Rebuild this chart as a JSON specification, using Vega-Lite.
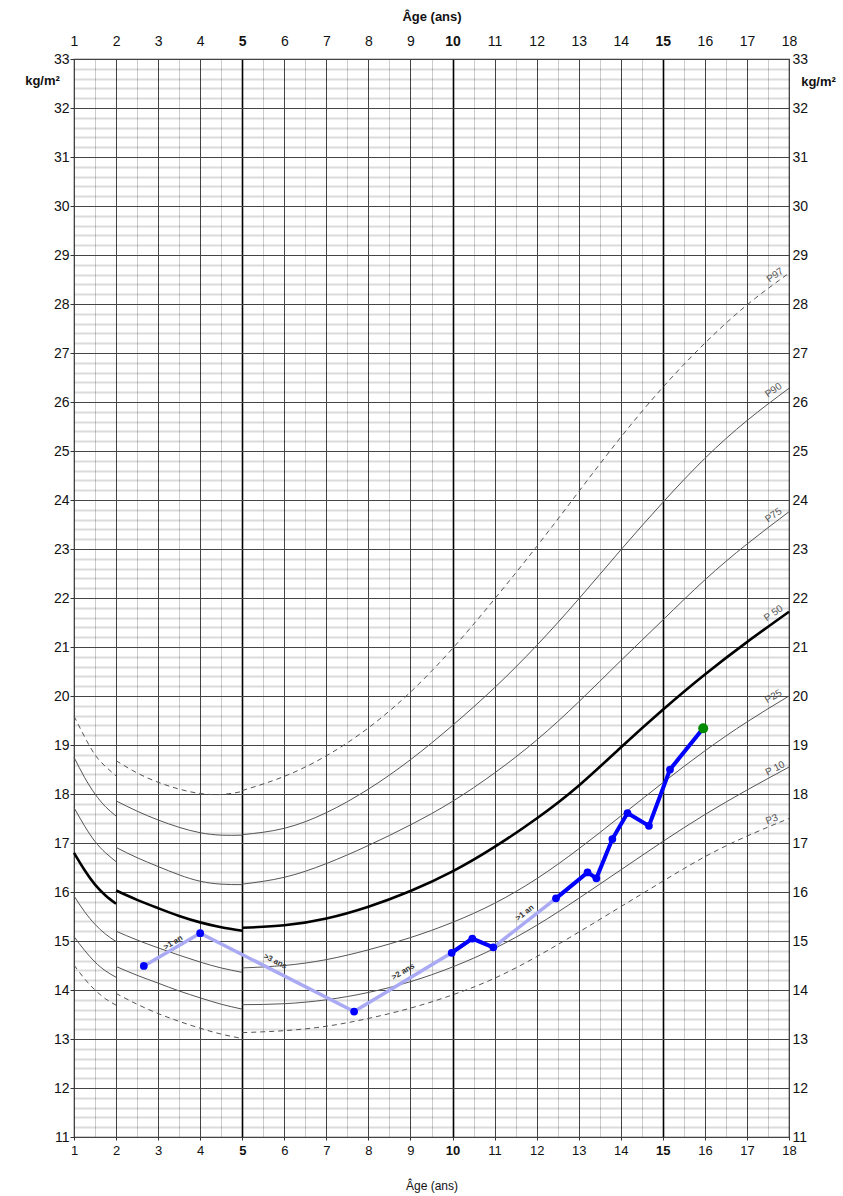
{
"$schema":"https://vega.github.io/schema/vega-lite/v6.json",
"width":715,"height":1078,"autosize":"none",
"padding":{"left":74,"top":59,"right":54,"bottom":59},
"background":"white",
"config":{"view":{"stroke":"#333","strokeWidth":1.2},"axis":{"labelFont":"Liberation Sans","titleFont":"Liberation Sans","labelColor":"#111","titleColor":"#111"}},
"datasets":{
"curves":[
{"p":"P97","s":"a","age":1,"bmi":19.59},{"p":"P97","s":"a","age":1.25,"bmi":19.17},{"p":"P97","s":"a","age":1.5,"bmi":18.8},{"p":"P97","s":"a","age":1.75,"bmi":18.56},{"p":"P97","s":"a","age":2,"bmi":18.37},
{"p":"P90","s":"a","age":1,"bmi":18.75},{"p":"P90","s":"a","age":1.25,"bmi":18.34},{"p":"P90","s":"a","age":1.5,"bmi":18.0},{"p":"P90","s":"a","age":1.75,"bmi":17.74},{"p":"P90","s":"a","age":2,"bmi":17.55},
{"p":"P75","s":"a","age":1,"bmi":17.72},{"p":"P75","s":"a","age":1.25,"bmi":17.35},{"p":"P75","s":"a","age":1.5,"bmi":17.03},{"p":"P75","s":"a","age":1.75,"bmi":16.8},{"p":"P75","s":"a","age":2,"bmi":16.62},
{"p":"P50","s":"a","age":1,"bmi":16.8},{"p":"P50","s":"a","age":1.25,"bmi":16.45},{"p":"P50","s":"a","age":1.5,"bmi":16.15},{"p":"P50","s":"a","age":1.75,"bmi":15.93},{"p":"P50","s":"a","age":2,"bmi":15.76},
{"p":"P25","s":"a","age":1,"bmi":15.92},{"p":"P25","s":"a","age":1.25,"bmi":15.6},{"p":"P25","s":"a","age":1.5,"bmi":15.34},{"p":"P25","s":"a","age":1.75,"bmi":15.14},{"p":"P25","s":"a","age":2,"bmi":14.99},
{"p":"P10","s":"a","age":1,"bmi":15.09},{"p":"P10","s":"a","age":1.25,"bmi":14.81},{"p":"P10","s":"a","age":1.5,"bmi":14.57},{"p":"P10","s":"a","age":1.75,"bmi":14.39},{"p":"P10","s":"a","age":2,"bmi":14.26},
{"p":"P3","s":"a","age":1,"bmi":14.51},{"p":"P3","s":"a","age":1.25,"bmi":14.23},{"p":"P3","s":"a","age":1.5,"bmi":14.0},{"p":"P3","s":"a","age":1.75,"bmi":13.82},{"p":"P3","s":"a","age":2,"bmi":13.69},
{"p":"P97","s":"b","age":2,"bmi":18.68},{"p":"P97","s":"b","age":2.5,"bmi":18.43},{"p":"P97","s":"b","age":3,"bmi":18.24},{"p":"P97","s":"b","age":3.5,"bmi":18.1},{"p":"P97","s":"b","age":4,"bmi":18.01},{"p":"P97","s":"b","age":4.5,"bmi":17.99},{"p":"P97","s":"b","age":5,"bmi":18.05},
{"p":"P90","s":"b","age":2,"bmi":17.86},{"p":"P90","s":"b","age":2.5,"bmi":17.65},{"p":"P90","s":"b","age":3,"bmi":17.47},{"p":"P90","s":"b","age":3.5,"bmi":17.32},{"p":"P90","s":"b","age":4,"bmi":17.21},{"p":"P90","s":"b","age":4.5,"bmi":17.16},{"p":"P90","s":"b","age":5,"bmi":17.16},
{"p":"P75","s":"b","age":2,"bmi":16.91},{"p":"P75","s":"b","age":2.5,"bmi":16.7},{"p":"P75","s":"b","age":3,"bmi":16.52},{"p":"P75","s":"b","age":3.5,"bmi":16.35},{"p":"P75","s":"b","age":4,"bmi":16.22},{"p":"P75","s":"b","age":4.5,"bmi":16.16},{"p":"P75","s":"b","age":5,"bmi":16.15},
{"p":"P50","s":"b","age":2,"bmi":16.03},{"p":"P50","s":"b","age":2.5,"bmi":15.84},{"p":"P50","s":"b","age":3,"bmi":15.67},{"p":"P50","s":"b","age":3.5,"bmi":15.51},{"p":"P50","s":"b","age":4,"bmi":15.38},{"p":"P50","s":"b","age":4.5,"bmi":15.28},{"p":"P50","s":"b","age":5,"bmi":15.21},
{"p":"P25","s":"b","age":2,"bmi":15.2},{"p":"P25","s":"b","age":2.5,"bmi":15.02},{"p":"P25","s":"b","age":3,"bmi":14.86},{"p":"P25","s":"b","age":3.5,"bmi":14.71},{"p":"P25","s":"b","age":4,"bmi":14.57},{"p":"P25","s":"b","age":4.5,"bmi":14.45},{"p":"P25","s":"b","age":5,"bmi":14.36},
{"p":"P10","s":"b","age":2,"bmi":14.48},{"p":"P10","s":"b","age":2.5,"bmi":14.3},{"p":"P10","s":"b","age":3,"bmi":14.14},{"p":"P10","s":"b","age":3.5,"bmi":13.98},{"p":"P10","s":"b","age":4,"bmi":13.84},{"p":"P10","s":"b","age":4.5,"bmi":13.71},{"p":"P10","s":"b","age":5,"bmi":13.61},
{"p":"P3","s":"b","age":2,"bmi":13.93},{"p":"P3","s":"b","age":2.5,"bmi":13.71},{"p":"P3","s":"b","age":3,"bmi":13.52},{"p":"P3","s":"b","age":3.5,"bmi":13.36},{"p":"P3","s":"b","age":4,"bmi":13.22},{"p":"P3","s":"b","age":4.5,"bmi":13.1},{"p":"P3","s":"b","age":5,"bmi":13.01},
{"p":"P97","s":"c","age":5,"bmi":18.07},{"p":"P97","s":"c","age":6,"bmi":18.36},{"p":"P97","s":"c","age":7,"bmi":18.78},{"p":"P97","s":"c","age":8,"bmi":19.35},{"p":"P97","s":"c","age":9,"bmi":20.08},{"p":"P97","s":"c","age":10,"bmi":20.97},{"p":"P97","s":"c","age":11,"bmi":21.98},{"p":"P97","s":"c","age":12,"bmi":23.05},{"p":"P97","s":"c","age":13,"bmi":24.17},{"p":"P97","s":"c","age":14,"bmi":25.28},{"p":"P97","s":"c","age":15,"bmi":26.3},{"p":"P97","s":"c","age":16,"bmi":27.2},{"p":"P97","s":"c","age":17,"bmi":27.98},{"p":"P97","s":"c","age":18,"bmi":28.63},
{"p":"P90","s":"c","age":5,"bmi":17.17},{"p":"P90","s":"c","age":6,"bmi":17.3},{"p":"P90","s":"c","age":7,"bmi":17.62},{"p":"P90","s":"c","age":8,"bmi":18.1},{"p":"P90","s":"c","age":9,"bmi":18.7},{"p":"P90","s":"c","age":10,"bmi":19.4},{"p":"P90","s":"c","age":11,"bmi":20.17},{"p":"P90","s":"c","age":12,"bmi":21.03},{"p":"P90","s":"c","age":13,"bmi":21.98},{"p":"P90","s":"c","age":14,"bmi":22.98},{"p":"P90","s":"c","age":15,"bmi":23.95},{"p":"P90","s":"c","age":16,"bmi":24.85},{"p":"P90","s":"c","age":17,"bmi":25.62},{"p":"P90","s":"c","age":18,"bmi":26.28},
{"p":"P75","s":"c","age":5,"bmi":16.16},{"p":"P75","s":"c","age":6,"bmi":16.3},{"p":"P75","s":"c","age":7,"bmi":16.58},{"p":"P75","s":"c","age":8,"bmi":16.95},{"p":"P75","s":"c","age":9,"bmi":17.37},{"p":"P75","s":"c","age":10,"bmi":17.85},{"p":"P75","s":"c","age":11,"bmi":18.43},{"p":"P75","s":"c","age":12,"bmi":19.1},{"p":"P75","s":"c","age":13,"bmi":19.88},{"p":"P75","s":"c","age":14,"bmi":20.72},{"p":"P75","s":"c","age":15,"bmi":21.55},{"p":"P75","s":"c","age":16,"bmi":22.37},{"p":"P75","s":"c","age":17,"bmi":23.1},{"p":"P75","s":"c","age":18,"bmi":23.76},
{"p":"P50","s":"c","age":5,"bmi":15.27},{"p":"P50","s":"c","age":6,"bmi":15.32},{"p":"P50","s":"c","age":7,"bmi":15.46},{"p":"P50","s":"c","age":8,"bmi":15.7},{"p":"P50","s":"c","age":9,"bmi":16.02},{"p":"P50","s":"c","age":10,"bmi":16.42},{"p":"P50","s":"c","age":11,"bmi":16.92},{"p":"P50","s":"c","age":12,"bmi":17.5},{"p":"P50","s":"c","age":13,"bmi":18.17},{"p":"P50","s":"c","age":14,"bmi":18.95},{"p":"P50","s":"c","age":15,"bmi":19.72},{"p":"P50","s":"c","age":16,"bmi":20.44},{"p":"P50","s":"c","age":17,"bmi":21.1},{"p":"P50","s":"c","age":18,"bmi":21.72},
{"p":"P25","s":"c","age":5,"bmi":14.45},{"p":"P25","s":"c","age":6,"bmi":14.5},{"p":"P25","s":"c","age":7,"bmi":14.62},{"p":"P25","s":"c","age":8,"bmi":14.82},{"p":"P25","s":"c","age":9,"bmi":15.07},{"p":"P25","s":"c","age":10,"bmi":15.38},{"p":"P25","s":"c","age":11,"bmi":15.77},{"p":"P25","s":"c","age":12,"bmi":16.27},{"p":"P25","s":"c","age":13,"bmi":16.88},{"p":"P25","s":"c","age":14,"bmi":17.55},{"p":"P25","s":"c","age":15,"bmi":18.23},{"p":"P25","s":"c","age":16,"bmi":18.88},{"p":"P25","s":"c","age":17,"bmi":19.47},{"p":"P25","s":"c","age":18,"bmi":20.0},
{"p":"P10","s":"c","age":5,"bmi":13.7},{"p":"P10","s":"c","age":6,"bmi":13.72},{"p":"P10","s":"c","age":7,"bmi":13.8},{"p":"P10","s":"c","age":8,"bmi":13.95},{"p":"P10","s":"c","age":9,"bmi":14.17},{"p":"P10","s":"c","age":10,"bmi":14.47},{"p":"P10","s":"c","age":11,"bmi":14.85},{"p":"P10","s":"c","age":12,"bmi":15.32},{"p":"P10","s":"c","age":13,"bmi":15.87},{"p":"P10","s":"c","age":14,"bmi":16.45},{"p":"P10","s":"c","age":15,"bmi":17.03},{"p":"P10","s":"c","age":16,"bmi":17.58},{"p":"P10","s":"c","age":17,"bmi":18.08},{"p":"P10","s":"c","age":18,"bmi":18.55},
{"p":"P3","s":"c","age":5,"bmi":13.13},{"p":"P3","s":"c","age":6,"bmi":13.17},{"p":"P3","s":"c","age":7,"bmi":13.26},{"p":"P3","s":"c","age":8,"bmi":13.42},{"p":"P3","s":"c","age":9,"bmi":13.63},{"p":"P3","s":"c","age":10,"bmi":13.9},{"p":"P3","s":"c","age":11,"bmi":14.24},{"p":"P3","s":"c","age":12,"bmi":14.68},{"p":"P3","s":"c","age":13,"bmi":15.18},{"p":"P3","s":"c","age":14,"bmi":15.7},{"p":"P3","s":"c","age":15,"bmi":16.22},{"p":"P3","s":"c","age":16,"bmi":16.72},{"p":"P3","s":"c","age":17,"bmi":17.14},{"p":"P3","s":"c","age":18,"bmi":17.5}
],
"patient":[
{"age":2.66,"bmi":14.49,"grp":null,"kind":"past"},
{"age":4.0,"bmi":15.16,"grp":null,"kind":"past"},
{"age":7.66,"bmi":13.56,"grp":null,"kind":"past"},
{"age":9.98,"bmi":14.76,"grp":"g1","kind":"past"},
{"age":10.47,"bmi":15.05,"grp":"g1","kind":"past"},
{"age":10.97,"bmi":14.87,"grp":"g1","kind":"past"},
{"age":12.46,"bmi":15.87,"grp":"g2","kind":"past"},
{"age":13.21,"bmi":16.4,"grp":"g2","kind":"past"},
{"age":13.42,"bmi":16.28,"grp":"g2","kind":"past"},
{"age":13.8,"bmi":17.08,"grp":"g2","kind":"past"},
{"age":14.16,"bmi":17.61,"grp":"g2","kind":"past"},
{"age":14.67,"bmi":17.35,"grp":"g2","kind":"past"},
{"age":15.17,"bmi":18.5,"grp":"g2","kind":"past"},
{"age":15.96,"bmi":19.34,"grp":"g2","kind":"current"}
],
"gaps":[
{"age":3.36,"bmi":14.96,"t":">1 an","g":"up"},
{"age":5.78,"bmi":14.58,"t":">3 ans","g":"down"},
{"age":8.83,"bmi":14.37,"t":">2 ans","g":"up"},
{"age":11.72,"bmi":15.57,"t":">1 an","g":"steep"}
],
"plabels":[
{"age":17.67,"bmi":28.59,"t":"P97","a":"A"},
{"age":17.63,"bmi":26.24,"t":"P90","a":"A"},
{"age":17.63,"bmi":23.69,"t":"P75","a":"A"},
{"age":17.63,"bmi":21.69,"t":"P 50","a":"A"},
{"age":17.63,"bmi":19.99,"t":"P25","a":"B"},
{"age":17.67,"bmi":18.52,"t":"P 10","a":"C"},
{"age":17.59,"bmi":17.48,"t":"P3","a":"D"}
]
},
"layer":[
{"data":{"name":"curves"},"transform":[{"filter":"datum.p==='P90'||datum.p==='P75'||datum.p==='P25'||datum.p==='P10'"}],
"mark":{"type":"line","stroke":"#555","strokeWidth":1,"interpolate":"natural"},
"encoding":{
"x":{"field":"age","type":"quantitative","scale":{"domain":[1,18],"nice":false,"zero":false},
"axis":{"orient":"bottom","values":[1,1.5,2,2.5,3,3.5,4,4.5,5,5.5,6,6.5,7,7.5,8,8.5,9,9.5,10,10.5,11,11.5,12,12.5,13,13.5,14,14.5,15,15.5,16,16.5,17,17.5,18],
"grid":true,"zindex":0,
"gridColor":{"condition":[{"test":"datum.value % 5 === 0","value":"#000"},{"test":"datum.value % 1 === 0","value":"#444"}],"value":"#000"},
"gridOpacity":{"condition":{"test":"datum.value % 1 === 0","value":1},"value":0.2},
"gridWidth":{"condition":{"test":"datum.value % 5 === 0","value":1.6},"value":1},
"labelExpr":"datum.value % 1 === 0 ? format(datum.value,'d') : ''",
"labelFontWeight":{"condition":{"test":"datum.value % 5 === 0","value":"bold"},"value":"normal"},
"tickOpacity":{"condition":{"test":"datum.value % 1 === 0","value":1},"value":0},
"tickSize":3,"tickColor":"#333","domain":false,"labelOverlap":false,"labelFlush":false,
"labelFontSize":13,"labelPadding":4,
"title":"Âge (ans)","titleFontSize":12,"titleFontWeight":"normal","titlePadding":23}},
"y":{"field":"bmi","type":"quantitative","scale":{"domain":[11,33],"nice":false,"zero":false},
"axis":{"orient":"left","values":[11,11.2,11.4,11.6,11.8,12,12.2,12.4,12.6,12.8,13,13.2,13.4,13.6,13.8,14,14.2,14.4,14.6,14.8,15,15.2,15.4,15.6,15.8,16,16.2,16.4,16.6,16.8,17,17.2,17.4,17.6,17.8,18,18.2,18.4,18.6,18.8,19,19.2,19.4,19.6,19.8,20,20.2,20.4,20.6,20.8,21,21.2,21.4,21.6,21.8,22,22.2,22.4,22.6,22.8,23,23.2,23.4,23.6,23.8,24,24.2,24.4,24.6,24.8,25,25.2,25.4,25.6,25.8,26,26.2,26.4,26.6,26.8,27,27.2,27.4,27.6,27.8,28,28.2,28.4,28.6,28.8,29,29.2,29.4,29.6,29.8,30,30.2,30.4,30.6,30.8,31,31.2,31.4,31.6,31.8,32,32.2,32.4,32.6,32.8,33],
"grid":true,"zindex":0,
"gridColor":{"condition":{"test":"datum.value % 1 === 0","value":"#444"},"value":"#000"},
"gridOpacity":{"condition":{"test":"datum.value % 1 === 0","value":1},"value":0.14},
"gridWidth":{"condition":{"test":"datum.value % 1 === 0","value":1.2},"value":1.8},
"labelExpr":"datum.value % 1 === 0 ? format(datum.value,'d') : ''",
"tickOpacity":{"condition":{"test":"datum.value % 1 === 0","value":1},"value":0},
"tickSize":4,"tickColor":"#333","domain":false,"labelOverlap":false,"labelFlush":false,
"labelFontSize":14,"labelPadding":1,
"title":"kg/m²","titleAngle":0,"titleX":-32,"titleY":21,"titleAlign":"center","titleBaseline":"middle","titleFontSize":13,"titleFontWeight":"bold"}},
"detail":[{"field":"p"},{"field":"s"}]}},
{"data":{"name":"curves"},"transform":[{"filter":"datum.p==='P97'||datum.p==='P3'"}],
"mark":{"type":"line","stroke":"#555","strokeWidth":1,"strokeDash":[5,4],"interpolate":"natural"},
"encoding":{
"x":{"field":"age","type":"quantitative","scale":{"domain":[1,18],"nice":false,"zero":false},
"axis":{"orient":"top","values":[1,2,3,4,5,6,7,8,9,10,11,12,13,14,15,16,17,18],"grid":false,"ticks":false,"domain":false,"labelOverlap":false,"labelFlush":false,
"labelFontSize":14,"labelPadding":11,
"labelFontWeight":{"condition":{"test":"datum.value % 5 === 0","value":"bold"},"value":"normal"},
"labelExpr":"format(datum.value,'d')",
"title":"Âge (ans)","titleFontSize":13,"titleFontWeight":"bold","titlePadding":11}},
"y":{"field":"bmi","type":"quantitative","scale":{"domain":[11,33],"nice":false,"zero":false},
"axis":{"orient":"right","values":[11,12,13,14,15,16,17,18,19,20,21,22,23,24,25,26,27,28,29,30,31,32,33],"grid":false,"ticks":false,"domain":false,"labelOverlap":false,"labelFlush":false,
"labelFontSize":14,"labelPadding":3,"labelExpr":"format(datum.value,'d')",
"title":"kg/m²","titleAngle":0,"titleX":29,"titleY":22,"titleAlign":"center","titleBaseline":"middle","titleFontSize":13,"titleFontWeight":"bold"}},
"detail":[{"field":"p"},{"field":"s"}]}},
{"data":{"name":"curves"},"transform":[{"filter":"datum.p==='P50'"}],
"mark":{"type":"line","stroke":"#000","strokeWidth":2.6,"interpolate":"natural"},
"encoding":{
"x":{"field":"age","type":"quantitative","scale":{"domain":[1,18],"nice":false,"zero":false},"axis":null},
"y":{"field":"bmi","type":"quantitative","scale":{"domain":[11,33],"nice":false,"zero":false},"axis":null},
"detail":{"field":"s"}}},
{"data":{"name":"patient"},
"mark":{"type":"line","stroke":"#a9aaf3","strokeWidth":3.5},
"encoding":{
"x":{"field":"age","type":"quantitative","scale":{"domain":[1,18],"nice":false,"zero":false},"axis":null},
"y":{"field":"bmi","type":"quantitative","scale":{"domain":[11,33],"nice":false,"zero":false},"axis":null}}},
{"data":{"name":"patient"},"transform":[{"filter":"datum.grp != null"}],
"mark":{"type":"line","stroke":"#0000ff","strokeWidth":4},
"encoding":{
"x":{"field":"age","type":"quantitative","scale":{"domain":[1,18],"nice":false,"zero":false},"axis":null},
"y":{"field":"bmi","type":"quantitative","scale":{"domain":[11,33],"nice":false,"zero":false},"axis":null},
"detail":{"field":"grp"}}},
{"data":{"name":"patient"},"transform":[{"filter":"datum.kind==='past'"}],
"mark":{"type":"circle","fill":"#0000ff","opacity":1,"size":60},
"encoding":{
"x":{"field":"age","type":"quantitative","scale":{"domain":[1,18],"nice":false,"zero":false},"axis":null},
"y":{"field":"bmi","type":"quantitative","scale":{"domain":[11,33],"nice":false,"zero":false},"axis":null}}},
{"data":{"name":"patient"},"transform":[{"filter":"datum.kind==='current'"}],
"mark":{"type":"circle","fill":"#008a00","opacity":1,"size":100},
"encoding":{
"x":{"field":"age","type":"quantitative","scale":{"domain":[1,18],"nice":false,"zero":false},"axis":null},
"y":{"field":"bmi","type":"quantitative","scale":{"domain":[11,33],"nice":false,"zero":false},"axis":null}}},
{"data":{"name":"gaps"},"transform":[{"filter":"datum.g==='up'"}],
"mark":{"type":"text","angle":-31,"fontSize":8,"fontWeight":"bold","fill":"#333","align":"center","baseline":"middle","font":"Liberation Sans"},
"encoding":{
"x":{"field":"age","type":"quantitative","scale":{"domain":[1,18],"nice":false,"zero":false},"axis":null},
"y":{"field":"bmi","type":"quantitative","scale":{"domain":[11,33],"nice":false,"zero":false},"axis":null},
"text":{"field":"t"}}},
{"data":{"name":"gaps"},"transform":[{"filter":"datum.g==='down'"}],
"mark":{"type":"text","angle":27,"fontSize":8,"fontWeight":"bold","fill":"#333","align":"center","baseline":"middle","font":"Liberation Sans"},
"encoding":{
"x":{"field":"age","type":"quantitative","scale":{"domain":[1,18],"nice":false,"zero":false},"axis":null},
"y":{"field":"bmi","type":"quantitative","scale":{"domain":[11,33],"nice":false,"zero":false},"axis":null},
"text":{"field":"t"}}},
{"data":{"name":"gaps"},"transform":[{"filter":"datum.g==='steep'"}],
"mark":{"type":"text","angle":-38,"fontSize":8,"fontWeight":"bold","fill":"#333","align":"center","baseline":"middle","font":"Liberation Sans"},
"encoding":{
"x":{"field":"age","type":"quantitative","scale":{"domain":[1,18],"nice":false,"zero":false},"axis":null},
"y":{"field":"bmi","type":"quantitative","scale":{"domain":[11,33],"nice":false,"zero":false},"axis":null},
"text":{"field":"t"}}},
{"data":{"name":"plabels"},"transform":[{"filter":"datum.a==='A'"}],
"mark":{"type":"text","angle":-35,"fontSize":10,"fill":"#555","align":"center","baseline":"middle","font":"Liberation Sans"},
"encoding":{
"x":{"field":"age","type":"quantitative","scale":{"domain":[1,18],"nice":false,"zero":false},"axis":null},
"y":{"field":"bmi","type":"quantitative","scale":{"domain":[11,33],"nice":false,"zero":false},"axis":null},
"text":{"field":"t"}}},
{"data":{"name":"plabels"},"transform":[{"filter":"datum.a==='B'"}],
"mark":{"type":"text","angle":-30,"fontSize":10,"fill":"#555","align":"center","baseline":"middle","font":"Liberation Sans"},
"encoding":{
"x":{"field":"age","type":"quantitative","scale":{"domain":[1,18],"nice":false,"zero":false},"axis":null},
"y":{"field":"bmi","type":"quantitative","scale":{"domain":[11,33],"nice":false,"zero":false},"axis":null},
"text":{"field":"t"}}},
{"data":{"name":"plabels"},"transform":[{"filter":"datum.a==='C'"}],
"mark":{"type":"text","angle":-27,"fontSize":10,"fill":"#555","align":"center","baseline":"middle","font":"Liberation Sans"},
"encoding":{
"x":{"field":"age","type":"quantitative","scale":{"domain":[1,18],"nice":false,"zero":false},"axis":null},
"y":{"field":"bmi","type":"quantitative","scale":{"domain":[11,33],"nice":false,"zero":false},"axis":null},
"text":{"field":"t"}}},
{"data":{"name":"plabels"},"transform":[{"filter":"datum.a==='D'"}],
"mark":{"type":"text","angle":-22,"fontSize":10,"fill":"#555","align":"center","baseline":"middle","font":"Liberation Sans"},
"encoding":{
"x":{"field":"age","type":"quantitative","scale":{"domain":[1,18],"nice":false,"zero":false},"axis":null},
"y":{"field":"bmi","type":"quantitative","scale":{"domain":[11,33],"nice":false,"zero":false},"axis":null},
"text":{"field":"t"}}}
],
"resolve":{"axis":{"x":"independent","y":"independent"}}
}
